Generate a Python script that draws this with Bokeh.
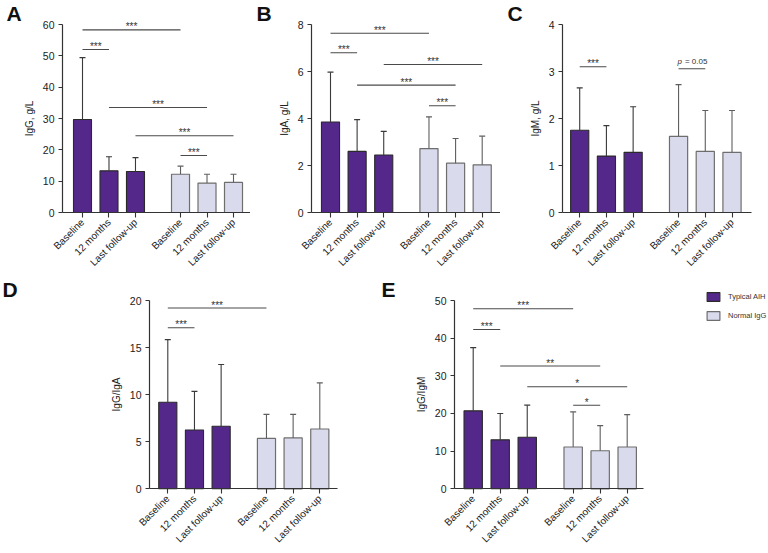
import math
from bokeh.plotting import figure
from bokeh.layouts import row, column
from bokeh.models import FixedTicker, Label, Legend, LegendItem, Range1d
from bokeh.core.properties import value
from bokeh.embed import file_html
from bokeh.resources import INLINE

# ---------------- data ----------------
timepoints = ["Baseline", "12 months", "Last follow-up"]
group_names = ["Typical AIH", "Normal IgG"]

igg_typ = [29.7, 13.3, 13.1]
igg_typ_sd = [19.7, 4.5, 4.4]
igg_norm = [12.2, 9.4, 9.6]
igg_norm_sd = [2.6, 2.8, 2.6]
igg_sig = [(0, 3, 58.3, "***"), (0, 1, 52.0, "***"), (1, 4, 33.5, "***"),
           (2, 5, 24.5, "***"), (3, 4, 18.2, "***")]

iga_typ = [3.85, 2.6, 2.45]
iga_typ_sd = [2.12, 1.35, 1.0]
iga_norm = [2.72, 2.1, 2.03]
iga_norm_sd = [1.35, 1.05, 1.22]
iga_sig = [(0, 3, 7.63, "***"), (0, 1, 6.8, "***"), (2, 5, 6.3, "***"),
           (1, 4, 5.42, "***"), (3, 4, 4.54, "***")]

igm_typ = [1.75, 1.2, 1.28]
igm_typ_sd = [0.9, 0.65, 0.97]
igm_norm = [1.62, 1.3, 1.28]
igm_norm_sd = [1.1, 0.87, 0.89]
igm_sig = [(0, 1, 3.1, "***"), (3, 4, 3.06, "p = 0.05")]

gga_typ = [9.2, 6.25, 6.65]
gga_typ_sd = [6.65, 4.1, 6.55]
gga_norm = [5.35, 5.4, 6.35]
gga_norm_sd = [2.55, 2.5, 4.9]
gga_sig = [(0, 3, 19.2, "***"), (0, 1, 17.1, "***")]

ggm_typ = [20.7, 13.0, 13.7]
ggm_typ_sd = [16.8, 7.0, 8.5]
ggm_norm = [11.1, 10.1, 11.1]
ggm_norm_sd = [9.3, 6.7, 8.6]
ggm_sig = [(0, 3, 47.8, "***"), (0, 1, 42.3, "***"), (1, 4, 32.6, "**"),
           (2, 5, 27.1, "*"), (3, 4, 22.2, "*")]

# ---------------- style ----------------
PURPLE = "#54278A"
LIGHT = "#D9DAEB"
FONT = "Liberation Sans"
AX = "#333333"

XS_T = [0, 10, 20]
XS_N = [37, 47, 57]
XS = XS_T + XS_N


def panel(letter, ylabel, ymax, ystep, typ, typ_sd, norm, norm_sd, sigs,
          w, h, geo, letter_xy, legend_xy=None):
    # geo: pixel geometry inside this canvas (from top-left):
    # y-axis x, first bar centre, last bar centre, x-axis right end,
    # pixel of y=0, pixel of y=ymax
    axl, b0, b5, axr, py0, pym = geo
    ppu = (b5 - b0) / (XS[-1] - XS[0])
    xs0 = -b0 / ppu
    xe0 = xs0 + w / ppu
    ppy = (py0 - pym) / ymax
    ys0 = -(h - py0) / ppy
    ye0 = py0 / ppy
    xb = ((axl - b0) / ppu, (axr - b0) / ppu)

    p = figure(width=w, height=h, x_range=Range1d(xs0, xe0),
               y_range=Range1d(ys0, ye0),
               output_backend="svg", toolbar_location=None,
               min_border_left=0, min_border_right=0,
               min_border_top=0, min_border_bottom=0)
    p.outline_line_color = None
    p.grid.visible = False
    p.background_fill_color = "white"
    p.border_fill_color = "white"

    rt = p.vbar(x=XS_T, top=typ, width=6.8, fill_color=PURPLE,
                line_color="#2a2a2a", line_width=1.1)
    rn = p.vbar(x=XS_N, top=norm, width=6.8, fill_color=LIGHT,
                line_color="#6e6e6e", line_width=1.2)

    for xs, m, sd, col in ((XS_T, typ, typ_sd, "#3a3a3a"),
                           (XS_N, norm, norm_sd, "#5e5e5e")):
        tops = [a + b for a, b in zip(m, sd)]
        p.segment(x0=xs, y0=m, x1=xs, y1=tops, line_color=col, line_width=1.1)
        p.scatter(x=xs, y=tops, marker="dash", size=6, line_color=col,
                  line_width=1.2)

    for i, j, y, lab in sigs:
        x0, x1 = XS[i], XS[j]
        p.segment(x0=[x0], y0=[y], x1=[x1], y1=[y], line_color="#4a4a4a",
                  line_width=1.1)
        xm = (x0 + x1) / 2
        if lab.startswith("p"):
            p.text(x=[xm], y=[y], text=["p"], text_align="right",
                   text_baseline="alphabetic", y_offset=-7, x_offset=-10,
                   text_font=value(FONT), text_font_style="italic",
                   text_font_size="8px", text_color="#333333")
            p.text(x=[xm], y=[y], text=["= 0.05"], text_align="left",
                   text_baseline="alphabetic", y_offset=-7, x_offset=-7,
                   text_font=value(FONT), text_font_size="8px",
                   text_color="#333333")
        else:
            p.text(x=[xm], y=[y], text=[lab], text_align="center",
                   text_baseline="alphabetic", y_offset=-3,
                   text_font=value(FONT), text_font_size="10px",
                   text_color="#333333")

    # axes (placed at fixed data locations so the frame fills the canvas)
    p.yaxis.fixed_location = xb[0]
    p.yaxis.ticker = FixedTicker(ticks=list(range(0, ymax + 1, ystep)))
    p.yaxis.bounds = (0, ymax)
    p.yaxis.axis_label = ylabel
    p.yaxis.axis_label_text_font = FONT
    p.yaxis.axis_label_text_font_style = "normal"
    p.yaxis.axis_label_text_font_size = "10px"
    p.yaxis.axis_label_text_color = "#222222"
    p.yaxis.axis_label_standoff = 5
    p.yaxis.major_label_text_font_size = "10.5px"
    p.yaxis.major_label_standoff = 4
    p.yaxis.major_tick_out = 4

    p.xaxis.fixed_location = 0
    p.xaxis.bounds = xb
    p.xaxis.ticker = FixedTicker(ticks=XS)
    p.xaxis.major_label_overrides = {x: timepoints[k % 3] for k, x in enumerate(XS)}
    p.xaxis.major_label_orientation = math.pi / 4
    p.xaxis.major_label_text_font_size = "10px"
    p.xaxis.major_label_standoff = 3
    p.xaxis.major_tick_out = 5

    for ax in (p.xaxis, p.yaxis):
        ax.major_label_text_font = FONT
        ax.major_label_text_color = "#222222"
        ax.axis_line_color = AX
        ax.axis_line_width = 1.2
        ax.major_tick_line_color = AX
        ax.major_tick_line_width = 1.1
        ax.major_tick_in = 0
        ax.minor_tick_line_color = None

    lx, ly = letter_xy
    p.add_layout(Label(x=lx, y=h - ly, x_units="screen", y_units="screen",
                       text=letter, text_font=FONT,
                       text_font_style="bold", text_font_size="21px",
                       text_color="#111111", text_baseline="alphabetic"))

    if legend_xy is not None:
        gx, gy = legend_xy
        leg = Legend(items=[LegendItem(label=group_names[0], renderers=[rt]),
                            LegendItem(label=group_names[1], renderers=[rn])],
                     location=(gx, h - gy), glyph_width=16, glyph_height=11,
                     label_height=11, spacing=8, padding=0, margin=0,
                     label_standoff=7, border_line_color=None,
                     background_fill_alpha=0, label_text_font=FONT,
                     label_text_font_size="7.5px", label_text_color="#333333")
        p.add_layout(leg)
    return p


pA = panel("A", "IgG, g/L", 60, 10, igg_typ, igg_typ_sd, igg_norm, igg_norm_sd,
           igg_sig, 250, 270, (62, 82, 233, 251, 212, 24), (6, 12.5))
pB = panel("B", "IgA, g/L", 8, 2, iga_typ, iga_typ_sd, iga_norm, iga_norm_sd,
           iga_sig, 250, 270, (61, 80, 231.7, 250, 212, 24), (6, 12.5))
pC = panel("C", "IgM, g/L", 4, 1, igm_typ, igm_typ_sd, igm_norm, igm_norm_sd,
           igm_sig, 268, 270, (62, 79.2, 231.5, 251, 212, 24), (7, 12.5))
pD = panel("D", "IgG/IgA", 20, 5, gga_typ, gga_typ_sd, gga_norm, gga_norm_sd,
           gga_sig, 380, 283, (149, 167.3, 319.3, 337.3, 218.3, 30), (2, 19))
pE = panel("E", "IgG/IgM", 50, 10, ggm_typ, ggm_typ_sd, ggm_norm, ggm_norm_sd,
           ggm_sig, 388, 283, (74, 92.7, 246.7, 262.7, 218.3, 30), (1, 19),
           legend_xy=(325, 51))

layout = column(row(pA, pB, pC, spacing=0), row(pD, pE, spacing=0), spacing=0)

open("out.html", "w").write(file_html(layout, INLINE))
